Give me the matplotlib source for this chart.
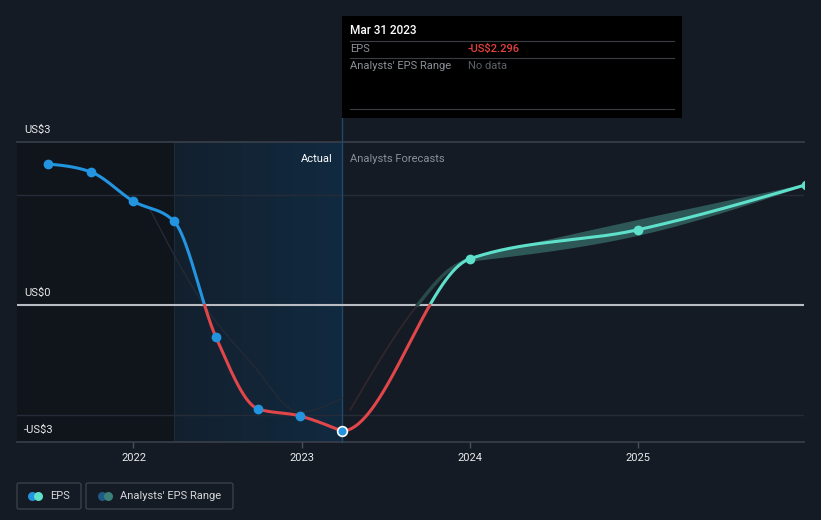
import numpy as np
import matplotlib
matplotlib.use("Agg")
import matplotlib.pyplot as plt
from matplotlib.patches import Rectangle, FancyBboxPatch
from matplotlib.lines import Line2D
from matplotlib.colors import LinearSegmentedColormap

plt.rcParams['font.family'] = ['Roboto', 'DejaVu Sans']

# ---------------- data ----------------
actual_dates = [2021.49, 2021.75, 2022.0, 2022.24, 2022.49, 2022.74, 2022.99, 2023.24]
actual_eps = [2.57, 2.42, 1.89, 1.53, -0.58, -1.89, -2.02, -2.296]

forecast_dates = [2023.24, 2024.0, 2025.0, 2026.0]
forecast_eps = [-2.296, 0.84, 1.37, 2.19]

range_dates = [2024.0, 2025.0, 2026.0]
range_low = [0.80, 1.27, 2.18]
range_high = [0.88, 1.56, 2.21]

# faint background traces
trace_dates = [2022.1, 2022.42, 2022.7, 2022.99, 2023.24]
trace_vals = [1.73, 0.0, -1.05, -1.95, -1.70]
pre_band_dates = [2023.29, 2023.69, 2023.88, 2024.0]
pre_band_vals = [-1.91, 0.0, 0.64, 0.84]

year_ticks = [2022, 2023, 2024, 2025]
y_labels = ["US$3", "US$0", "-US$3"]

# ---------------- colours ----------------
BG = "#151b25"
BLUE = "#2394df"
RED = "#e0464a"
TEAL = "#5ee0cb"
GRID = "#262c37"

def monotone_tangents(x, y):
    x = np.asarray(x, float); y = np.asarray(y, float)
    n = len(x)
    h = np.diff(x); s = np.diff(y) / h
    m = np.zeros(n)
    for i in range(1, n - 1):
        h0, h1, s0, s1 = h[i-1], h[i], s[i-1], s[i]
        p = (s0 * h1 + s1 * h0) / (h0 + h1)
        m[i] = (np.sign(s0) + np.sign(s1)) * min(abs(s0), abs(s1), 0.5 * abs(p))
    if n > 2:
        m[0] = (3 * s[0] - m[1]) / 2
        m[-1] = (3 * s[-1] - m[-2]) / 2
    else:
        m[0] = m[-1] = s[0]
    return m

def hermite(x, y, m, k=120):
    x = np.asarray(x, float); y = np.asarray(y, float)
    xs, ys = [], []
    for i in range(len(x) - 1):
        h = x[i+1] - x[i]
        t = np.linspace(0, 1, k, endpoint=(i == len(x) - 2))
        h00 = 2*t**3 - 3*t**2 + 1
        h10 = t**3 - 2*t**2 + t
        h01 = -2*t**3 + 3*t**2
        h11 = t**3 - t**2
        xs.append(x[i] + t * h)
        ys.append(h00*y[i] + h10*h*m[i] + h01*y[i+1] + h11*h*m[i+1])
    return np.concatenate(xs), np.concatenate(ys)

def smooth(x, y, start_tangent=None):
    m = monotone_tangents(x, y)
    if start_tangent is not None:
        m[0] = start_tangent
    return hermite(x, y, m)

def split_sign(xs, ys):
    X, Y = [xs[0]], [ys[0]]
    for i in range(1, len(xs)):
        if ys[i-1] * ys[i] < 0:
            x0 = xs[i-1] + (xs[i] - xs[i-1]) * (0 - ys[i-1]) / (ys[i] - ys[i-1])
            X.append(x0); Y.append(0.0)
        X.append(xs[i]); Y.append(ys[i])
    X = np.array(X); Y = np.array(Y)
    pos = np.where(Y >= 0, Y, np.nan)
    neg = np.where(Y <= 0, Y, np.nan)
    return X, pos, neg

# ---------------- figure ----------------
fig = plt.figure(figsize=(8.21, 5.20), dpi=100, facecolor=BG)
ax = fig.add_axes([17/821, 1 - 442/520, (804 - 17)/821, 300/520])
ax.set_facecolor(BG)
ymin, ymax = -2.495, 2.97
xmin, xmax = 2021.307, 2025.99
ax.set_xlim(xmin, xmax)
ax.set_ylim(ymin, ymax)
for sp in ax.spines.values():
    sp.set_visible(False)

# shaded regions
ax.axvspan(xmin, 2022.24, color="#10141b", zorder=0, lw=0)
grad = np.linspace(0, 1, 256).reshape(1, -1)
cmap = LinearSegmentedColormap.from_list("g", ["#13202e", "#112a40"])
ax.imshow(grad, extent=[2022.24, 2023.24, ymin, ymax], aspect="auto", cmap=cmap, zorder=0.5)
ax.axvline(2022.24, color="#1b2c3d", lw=0.8, zorder=0.6)

# gridlines
ax.axhline(2, color=GRID, lw=1, zorder=1)
ax.axhline(-2, color=GRID, lw=1, zorder=1)
ax.axhline(ymax, color="#3a404b", lw=1.2, zorder=1, clip_on=False)
ax.axhline(ymin, color="#3a404b", lw=1.2, zorder=1, clip_on=False)
ax.axhline(0, color="#b9bcc2", lw=1.5, zorder=2)

# vertical marker line at last actual
ax.plot([2023.24, 2023.24], [ymin, ymax + 0.44], color="#1f4a6b", lw=1, zorder=1.5, clip_on=False)

# faint traces
tx, ty = smooth(trace_dates, trace_vals)
ax.plot(tx, ty, color="#242a36", lw=1.0, zorder=2)
px, py = smooth(pre_band_dates, pre_band_vals)
X, pos, neg = split_sign(px, py)
ax.plot(X, neg, color="#33262c", lw=1.2, zorder=2)
ax.plot(X, pos, color="#2a4a4a", lw=2.5, zorder=2)

# analysts range band
bx, blo = smooth(range_dates, range_low)
_, bhi = smooth(range_dates, range_high)
ax.fill_between(bx, blo, bhi, color="#2f5c5a", lw=0, zorder=2.5, alpha=0.95)

# actual line
ax_x, ax_y = smooth(actual_dates, actual_eps)
X, pos, neg = split_sign(ax_x, ax_y)
ax.plot(X, pos, color=BLUE, lw=2.2, zorder=3, solid_capstyle="round")
ax.plot(X, neg, color=RED, lw=2.2, zorder=3, solid_capstyle="round")

# forecast line
fx, fy = smooth(forecast_dates, forecast_eps, start_tangent=0.0)
X, pos, neg = split_sign(fx, fy)
ax.plot(X, pos, color=TEAL, lw=2.2, zorder=3, solid_capstyle="round")
ax.plot(X, neg, color=RED, lw=2.2, zorder=3, solid_capstyle="round")

# markers
ax.plot(actual_dates[:-1], actual_eps[:-1], "o", color=BLUE, ms=6, zorder=4)
ax.plot(actual_dates[-1:], actual_eps[-1:], "o", color=BLUE, ms=7, mec="white", mew=1.2, zorder=4, clip_on=False)
ax.plot(forecast_dates[1:], forecast_eps[1:], "o", color=TEAL, ms=6, zorder=4)

# y labels
for lab, yv in zip(y_labels, [ymax, 0, ymin]):
    ax.annotate(lab, xy=(0, yv), xycoords=("axes fraction", "data"), xytext=(5, 5),
                textcoords="offset points", color="#e8e9eb", fontsize=8, va="bottom", ha="left")

# x ticks
ax.set_xticks(year_ticks)
ax.set_xticklabels([str(y) for y in year_ticks])
ax.tick_params(axis="x", colors="#4b515c", length=4, width=1, labelcolor="#e8e9eb", labelsize=8, pad=4)
ax.set_yticks([])

# Actual / Analysts Forecasts
ax.annotate("Actual", xy=(2023.24, ymax), xycoords="data", xytext=(-7, -12), textcoords="offset points",
            ha="right", va="center", color="#ffffff", fontsize=8)
ax.annotate("Analysts Forecasts", xy=(2023.24, ymax), xycoords="data", xytext=(6, -12), textcoords="offset points",
            ha="left", va="center", color="#8a8f98", fontsize=8)

# ---------------- tooltip ----------------
W, H = 821, 520
def fx_(px_): return px_ / W
def fy_(py_): return 1 - py_ / H
fig.patches.append(Rectangle((fx_(342), fy_(118)), (682 - 342) / W, (118 - 16) / H,
                             transform=fig.transFigure, facecolor="#000000", edgecolor="none", zorder=10))
for yy in [41, 58, 109]:
    fig.lines.append(Line2D([fx_(350), fx_(674)], [fy_(yy), fy_(yy)], transform=fig.transFigure,
                            color="#3a3d42", lw=0.8, zorder=11))
fig.text(fx_(350), fy_(31), "Mar 31 2023", color="#ffffff", fontsize=8.5, va="center", ha="left",
         fontweight="medium", zorder=12)
fig.text(fx_(350), fy_(49), "EPS", color="#8c9097", fontsize=8, va="center", ha="left", zorder=12)
fig.text(fx_(468), fy_(49), "-US$2.296", color="#e5413f", fontsize=8, va="center", ha="left",
         fontweight="medium", zorder=12)
fig.text(fx_(350), fy_(66), "Analysts' EPS Range", color="#8c9097", fontsize=8, va="center", ha="left", zorder=12)
fig.text(fx_(468), fy_(66), "No data", color="#5c6067", fontsize=8, va="center", ha="left", zorder=12)

# ---------------- legend ----------------
def legend_box(x0, x1):
    fig.patches.append(FancyBboxPatch((fx_(x0), fy_(509)), (x1 - x0) / W, (509 - 483) / H,
                                      boxstyle="round,pad=0,rounding_size=0.003",
                                      transform=fig.transFigure, facecolor="none",
                                      edgecolor="#3a404a", lw=1, zorder=10))
legend_box(17, 81)
legend_box(86, 233)
lax = fig.add_axes([0, 0, 1, 1], facecolor="none")
lax.set_xlim(0, W); lax.set_ylim(H, 0); lax.axis("off")
lax.scatter([32], [496], s=42, color=BLUE, zorder=5, lw=0)
lax.scatter([38], [496], s=42, color=TEAL, zorder=6, lw=0)
lax.scatter([102], [496], s=42, color="#1f5a86", zorder=5, lw=0)
lax.scatter([108], [496], s=42, color="#3a7f78", zorder=6, lw=0)
lax.text(50, 496, "EPS", color="#d5d7da", fontsize=8, va="center", ha="left")
lax.text(120, 496, "Analysts' EPS Range", color="#d5d7da", fontsize=8, va="center", ha="left")

fig.savefig("out.png", dpi=100, facecolor=BG)
